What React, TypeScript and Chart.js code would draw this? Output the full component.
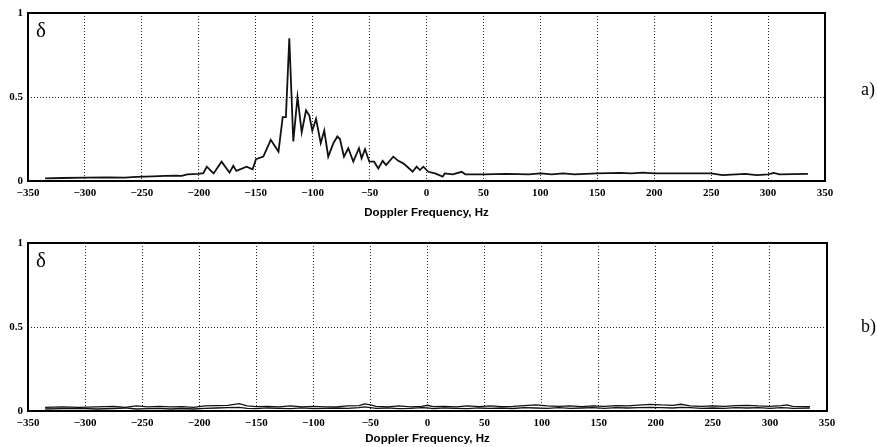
import React, { useEffect, useRef } from "react";
import { Chart, registerables } from "chart.js";

Chart.register(...registerables);

// ---------- data ----------
const X_TICKS = [-350, -300, -250, -200, -150, -100, -50, 0, 50, 100, 150, 200, 250, 300, 350];
const Y_TICKS = [0, 0.5, 1];
const X_TITLE = "Doppler Frequency, Hz";
const Y_SYMBOL = "δ";
const PANEL_LABELS = ["a)", "b)"];

// panel a)
const FREQ_A = [
  -335, -320, -300, -280, -265, -255, -240, -230, -220, -215,
  -210, -200, -196, -193, -187, -180, -173, -169.7, -167, -158,
  -152.7, -149.8, -143.3, -136.8, -130, -126.3, -123.5, -120.5, -117, -113.3,
  -109.6, -105.8, -102.9, -100.3, -97, -92.9, -89.8, -86.3, -81.8, -78.3,
  -76, -72.5, -68.7, -64.3, -59.3, -57, -54, -50.2, -46, -42.3,
  -38.5, -35.5, -29.2, -24.8, -20.4, -16.9, -12.2, -8.7, -5.8, -2.8,
  1.6, 7.5, 14.2, 16, 23, 30.9, 34, 50, 70, 90,
  100, 110, 120, 130, 150, 170, 180, 190, 200, 220,
  250, 260, 280, 290, 300, 305, 310, 335,
];
const DELTA_A = [
  0.016, 0.018, 0.02, 0.022, 0.02, 0.025, 0.028, 0.03, 0.032, 0.03,
  0.04, 0.042, 0.047, 0.085, 0.045, 0.115, 0.05, 0.09, 0.06, 0.085,
  0.07, 0.13, 0.145, 0.245, 0.175, 0.38, 0.38, 0.85, 0.235, 0.5,
  0.29, 0.42, 0.39, 0.3, 0.37, 0.225, 0.3, 0.145, 0.225, 0.265,
  0.25, 0.145, 0.195, 0.115, 0.195, 0.135, 0.19, 0.115, 0.115, 0.075,
  0.12, 0.095, 0.145, 0.12, 0.105, 0.085, 0.055, 0.085, 0.065, 0.085,
  0.055, 0.045, 0.026, 0.045, 0.04, 0.055, 0.04, 0.04, 0.042, 0.04,
  0.045, 0.04, 0.045, 0.04, 0.045, 0.048, 0.045, 0.05, 0.045, 0.045,
  0.045, 0.035, 0.042, 0.035, 0.04, 0.048, 0.04, 0.042,
];

// panel b)
const FREQ_B = [
  -335, -320, -305, -290, -275, -265, -255, -245, -235, -225,
  -215, -205, -195, -185, -175, -165, -158, -150, -140, -130,
  -120, -110, -100, -90, -80, -70, -60, -55, -50, -45,
  -35, -25, -15, -5, 0, 5, 15, 25, 35, 45,
  55, 65, 75, 85, 95, 105, 115, 125, 135, 145,
  155, 165, 175, 185, 195, 205, 215, 222, 230, 240,
  250, 260, 270, 280, 290, 300, 310, 315, 320, 335,
];
const DELTA_B_UPPER = [
  0.022, 0.024, 0.022, 0.025, 0.028, 0.022, 0.03, 0.025, 0.028, 0.024,
  0.026, 0.022, 0.03, 0.032, 0.034, 0.044, 0.03, 0.026, 0.028, 0.024,
  0.03, 0.024, 0.028, 0.025, 0.024, 0.03, 0.032, 0.042, 0.036, 0.028,
  0.024, 0.03, 0.025, 0.028, 0.034, 0.026, 0.028, 0.024, 0.03, 0.026,
  0.03, 0.026, 0.028, 0.032, 0.036, 0.03, 0.028, 0.03, 0.026, 0.03,
  0.028, 0.032, 0.03, 0.035, 0.04, 0.036, 0.034, 0.04, 0.03, 0.028,
  0.03, 0.028, 0.032, 0.034, 0.03, 0.028, 0.032, 0.036, 0.028, 0.026,
];
const DELTA_B_LOWER = [
  0.012, 0.014, 0.016, 0.012, 0.015, 0.018, 0.012, 0.014, 0.016, 0.012,
  0.015, 0.012, 0.016, 0.018, 0.02, 0.022, 0.016, 0.014, 0.018, 0.016,
  0.014, 0.018, 0.014, 0.016, 0.018, 0.016, 0.02, 0.024, 0.02, 0.016,
  0.018, 0.014, 0.016, 0.02, 0.018, 0.014, 0.018, 0.016, 0.014, 0.018,
  0.016, 0.018, 0.015, 0.02, 0.018, 0.016, 0.02, 0.016, 0.018, 0.02,
  0.016, 0.02, 0.018, 0.02, 0.022, 0.02, 0.018, 0.022, 0.02, 0.016,
  0.018, 0.016, 0.02, 0.018, 0.02, 0.016, 0.02, 0.018, 0.016, 0.018,
];

// ---------- helpers ----------
const toPoints = (xs: number[], ys: number[]) => xs.map((x, i) => ({ x, y: ys[i] }));

const framePlugin = {
  id: "frameAndLabels",
  afterDatasetsDraw(chart: any, _args: any, opts: any) {
    const { ctx, chartArea: a } = chart;
    ctx.save();
    ctx.strokeStyle = "#000";
    ctx.lineWidth = 2;
    ctx.strokeRect(a.left, a.top, a.right - a.left, a.bottom - a.top);
    ctx.fillStyle = "#000";
    ctx.textBaseline = "middle";
    ctx.textAlign = "left";
    ctx.font = '21px "Liberation Serif", serif';
    ctx.fillText(Y_SYMBOL, a.left + 8, a.top + 18);
    ctx.font = '18px "Liberation Serif", serif';
    ctx.fillText(opts.label, opts.labelX, opts.labelY);
    ctx.restore();
  },
};

function makeConfig(datasets: any[], p: { top: number; right: number; axisH: number; titleBottom: number; label: string; labelY: number }) {
  return {
    type: "line",
    data: { datasets },
    plugins: [framePlugin],
    options: {
      animation: false,
      responsive: false,
      events: [],
      layout: { padding: { top: p.top, right: p.right, left: 0, bottom: 0 } },
      plugins: {
        legend: { display: false },
        tooltip: { enabled: false },
        frameAndLabels: { label: p.label, labelX: 861, labelY: p.labelY },
      },
      elements: { point: { radius: 0 }, line: { tension: 0 } },
      scales: {
        x: {
          type: "linear",
          min: -350,
          max: 350,
          afterBuildTicks: (s: any) => {
            s.ticks = X_TICKS.map((v) => ({ value: v }));
          },
          afterFit: (s: any) => {
            s.height = p.axisH;
          },
          grid: { color: "#222", lineWidth: 1, drawTicks: false },
          border: { display: false, dash: [1, 2] },
          ticks: {
            padding: 6,
            maxRotation: 0,
            autoSkip: false,
            color: "#000",
            font: { family: '"Liberation Serif", serif', size: 11, weight: "bold" },
            callback: (v: number) => (v < 0 ? "\u2212" + Math.abs(v) : String(v)),
          },
          title: {
            display: true,
            text: X_TITLE,
            color: "#000",
            font: { family: '"Liberation Sans", Arial, sans-serif', size: 11.5, weight: "bold" },
            padding: { top: 0, bottom: p.titleBottom },
          },
        },
        y: {
          type: "linear",
          min: 0,
          max: 1,
          afterBuildTicks: (s: any) => {
            s.ticks = Y_TICKS.map((v) => ({ value: v }));
          },
          afterFit: (s: any) => {
            s.width = 28;
          },
          grid: { color: "#222", lineWidth: 1, drawTicks: false },
          border: { display: false, dash: [1, 2] },
          ticks: {
            padding: 5,
            color: "#000",
            font: { family: '"Liberation Serif", serif', size: 11, weight: "bold" },
            callback: (v: number) => String(v),
          },
        },
      },
    },
  } as any;
}

function Panel({ config, width, height, top }: { config: any; width: number; height: number; top: number }) {
  const ref = useRef<HTMLCanvasElement | null>(null);
  useEffect(() => {
    if (!ref.current) return;
    const chart = new Chart(ref.current, config);
    return () => chart.destroy();
  }, [config]);
  return (
    <canvas
      ref={ref}
      width={width}
      height={height}
      style={{ position: "absolute", left: 0, top, width, height }}
    />
  );
}

const configA = makeConfig(
  [
    {
      data: toPoints(FREQ_A, DELTA_A),
      borderColor: "#111",
      borderWidth: 1.8,
      fill: false,
    },
  ],
  { top: 13, right: 52, axisH: 41, titleBottom: 2, label: PANEL_LABELS[0], labelY: 90 }
);

const configB = makeConfig(
  [
    {
      data: toPoints(FREQ_B, DELTA_B_UPPER),
      borderColor: "#111",
      borderWidth: 1.3,
      fill: false,
    },
    {
      data: toPoints(FREQ_B, DELTA_B_LOWER),
      borderColor: "#111",
      borderWidth: 1.3,
      fill: false,
    },
  ],
  { top: 21, right: 50, axisH: 36, titleBottom: 1, label: PANEL_LABELS[1], labelY: 105 }
);

export default function App() {
  return (
    <div
      style={{
        position: "fixed",
        left: 0,
        top: 0,
        width: 877,
        height: 447,
        background: "#fff",
        overflow: "hidden",
      }}
    >
      <Panel config={configA} width={877} height={222} top={0} />
      <Panel config={configB} width={877} height={225} top={222} />
    </div>
  );
}
